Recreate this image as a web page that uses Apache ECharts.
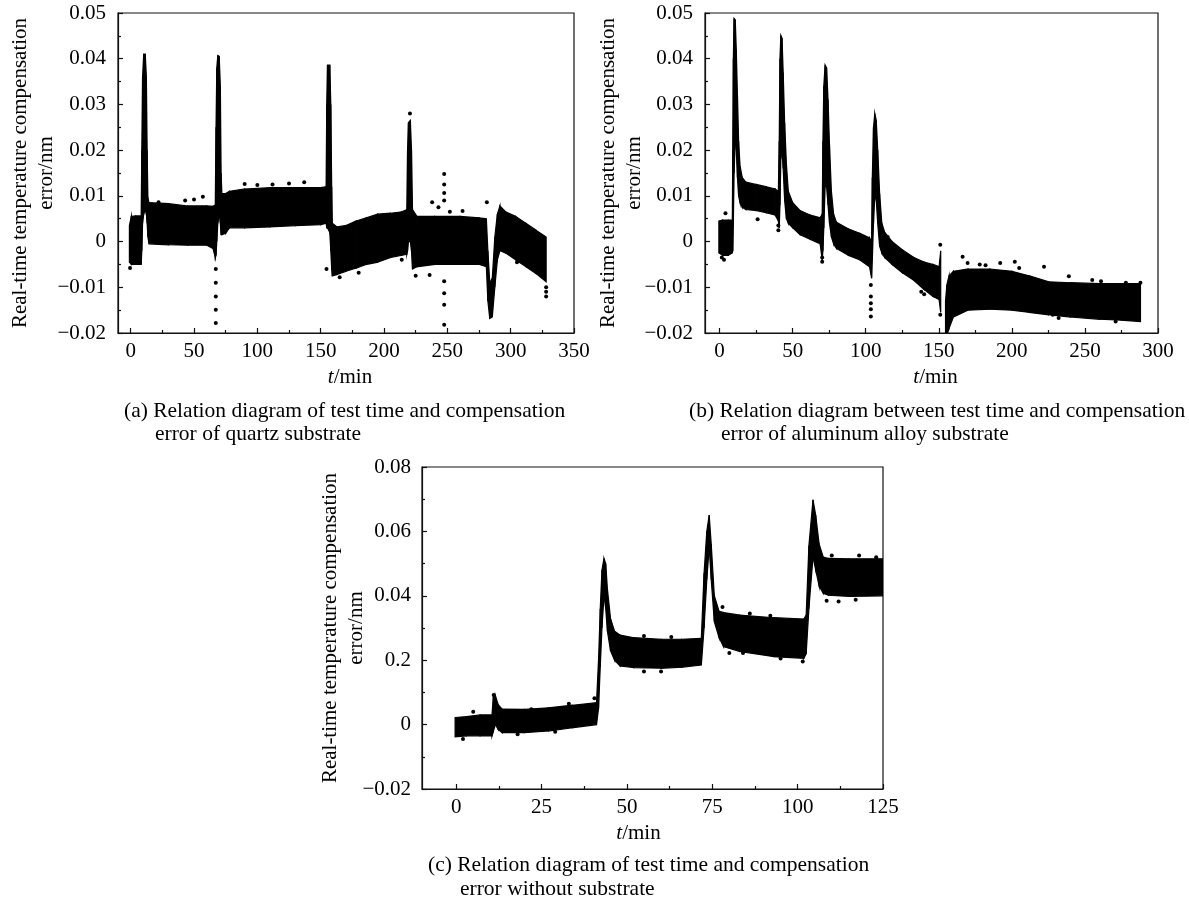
<!DOCTYPE html>
<html><head><meta charset="utf-8">
<script src="https://cdn.jsdelivr.net/npm/echarts@6/dist/echarts.min.js"></script>
<style>html,body{margin:0;padding:0;background:#fff}#c{width:1189px;height:901px}</style>
</head><body><div id="c"></div>
<script>
// ---------- tick values and labels ----------
const xTicksA = [0, 50, 100, 150, 200, 250, 300, 350];
const xMinorA = [25, 75, 125, 175, 225, 275, 325];
const xTicksB = [0, 50, 100, 150, 200, 250, 300];
const xMinorB = [25, 75, 125, 175, 225, 275];
const xTicksC = [0, 25, 50, 75, 100, 125];
const xMinorC = [12.5, 37.5, 62.5, 87.5, 112.5];
const yTicksAB = [-0.02, -0.01, 0, 0.01, 0.02, 0.03, 0.04, 0.05];
const yLabelsAB = ['−0.02', '−0.01', '0', '0.01', '0.02', '0.03', '0.04', '0.05'];
const yTicksC = [-0.02, 0, 0.02, 0.04, 0.06, 0.08];
const yLabelsC = ['−0.02', '0', '0.2', '0.04', '0.06', '0.08'];

const yTitle = 'Real-time temperature compensation\nerror/nm';
const xTitle = '{i|t}/min';
const captionA = ['(a) Relation diagram of test time and compensation', 'error of quartz substrate'];
const captionB = ['(b) Relation diagram between test time and compensation', 'error of aluminum alloy substrate'];
const captionC = ['(c) Relation diagram of test time and compensation', 'error without substrate'];

// ---------- data: envelope of the dense point cloud [t, low, high] ----------
const quartzBand = [
  [-1.0, -0.0045, 0.0035], [0.5, -0.005, 0.0055], [4, -0.005, 0.0056], [8.3, -0.005, 0.0056],
  [8.8, -0.002, 0.020], [9.4, 0.004, 0.036], [10.3, 0.006, 0.041], [11.5, 0.007, 0.041],
  [12.4, 0.006, 0.036], [13.0, 0.004, 0.020], [13.6, 0.001, 0.0095], [14.5, -0.0005, 0.0085],
  [30, -0.0007, 0.0083], [45, -0.0008, 0.0078], [60, -0.0008, 0.0078], [65, -0.0015, 0.0077],
  [66.8, -0.0035, 0.008], [67.4, -0.003, 0.025], [68.0, 0.0, 0.038], [68.8, 0.004, 0.0407],
  [69.9, 0.006, 0.0405], [70.8, 0.004, 0.034], [71.4, 0.0015, 0.015], [72, 0.0015, 0.0105],
  [75, 0.0018, 0.0105], [78, 0.003, 0.011], [90, 0.003, 0.0115], [110, 0.0032, 0.0118],
  [130, 0.0035, 0.0118], [150, 0.0037, 0.0118], [154.3, 0.004, 0.012], [154.8, 0.003, 0.030],
  [155.4, 0.003, 0.0386], [157.2, 0.002, 0.0386], [158, -0.002, 0.030], [158.7, -0.006, 0.012],
  [159.2, -0.0075, 0.004], [163, -0.0072, 0.0032], [170, -0.0065, 0.0035], [178, -0.0058, 0.0045],
  [186, -0.005, 0.0052], [195, -0.0045, 0.006], [205, -0.0035, 0.0062], [214, -0.003, 0.0065],
  [218, -0.0028, 0.007], [218.6, -0.002, 0.020], [219.3, 0.0, 0.026], [220.8, 0.0, 0.0265],
  [221.7, -0.002, 0.020], [222.5, -0.006, 0.007], [226, -0.0055, 0.0055], [240, -0.005, 0.0055],
  [260, -0.005, 0.0055], [275, -0.005, 0.0052], [280.8, -0.0055, 0.005], [282, -0.013, -0.002],
  [283.5, -0.0168, -0.009], [285.5, -0.0165, -0.008], [287.5, -0.010, 0.001], [289.5, -0.004, 0.006],
  [291.5, -0.002, 0.0078], [296, -0.0025, 0.0065], [304, -0.004, 0.0055], [312, -0.0055, 0.004],
  [320, -0.007, 0.0025], [328, -0.0088, 0.001]
];
const quartzDots = [
  [-0.5, -0.0058], [67.2, -0.006], [67.2, -0.009], [67.2, -0.012], [67.2, -0.0149], [67.2, -0.0178],
  [247.5, 0.0148], [247.5, 0.0125], [247.5, 0.0106], [247.5, 0.009], [247.5, -0.0087], [247.5, -0.0113],
  [247.5, -0.0138], [247.5, -0.0182], [22, 0.0086], [43, 0.009], [50, 0.0092], [57, 0.0098],
  [90, 0.0126], [100, 0.0124], [112, 0.0125], [125, 0.0127], [137, 0.013], [154.6, -0.006],
  [220.5, 0.028], [238, 0.0086], [243, 0.0075], [281.2, 0.0086], [328, -0.010], [328, -0.011],
  [328, -0.012], [165, -0.0078], [180, -0.0068], [225, -0.0075], [236, -0.0073], [252, 0.0065],
  [262, 0.0067], [305, -0.0045], [214, -0.004]
];

const alloyBand = [
  [-0.5, -0.0025, 0.0045], [2, -0.003, 0.0047], [6, -0.003, 0.0047], [8.7, -0.0025, 0.0047],
  [9.0, -0.002, 0.020], [9.4, 0.004, 0.040], [9.9, 0.015, 0.0488], [10.7, 0.022, 0.0485],
  [11.4, 0.020, 0.042], [12.2, 0.014, 0.032], [13.0, 0.010, 0.022], [14, 0.0085, 0.0165],
  [15.5, 0.0075, 0.014], [18, 0.007, 0.013], [25, 0.0068, 0.0125], [32, 0.0063, 0.012],
  [38, 0.0058, 0.0115], [40.2, 0.0045, 0.011], [40.8, 0.003, 0.022], [41.3, 0.008, 0.040],
  [41.9, 0.018, 0.0451], [42.7, 0.020, 0.0445], [43.5, 0.016, 0.037], [44.5, 0.009, 0.026],
  [45.7, 0.005, 0.017], [47, 0.004, 0.011], [50, 0.003, 0.0085], [55, 0.0015, 0.0068],
  [62, 0.0005, 0.0058], [68.8, -0.0005, 0.0052], [70.2, -0.004, 0.006], [70.7, -0.002, 0.022],
  [71.3, 0.003, 0.034], [72.2, 0.012, 0.0386], [73.2, 0.012, 0.038], [74.2, 0.008, 0.031],
  [75.2, 0.004, 0.021], [76.5, 0.001, 0.011], [78, -0.0005, 0.006], [80, -0.0015, 0.0042],
  [88, -0.003, 0.0028], [96, -0.004, 0.0018], [102.6, -0.0055, 0.0008], [104, -0.008, 0.0],
  [104.5, -0.004, 0.014], [105.3, 0.004, 0.025], [106.2, 0.010, 0.028], [107.2, 0.009, 0.0265],
  [108.2, 0.004, 0.020], [109.5, -0.001, 0.0105], [111, -0.0025, 0.004], [113, -0.0035, 0.002],
  [118, -0.005, 0.0], [125, -0.0068, -0.0018], [133, -0.0085, -0.0035], [140, -0.0105, -0.0045],
  [146, -0.012, -0.005], [150.2, -0.0127, -0.0055], [151.3, -0.0155, -0.002],
  null,
  [154.6, -0.0205, -0.013], [155.5, -0.0205, -0.0095], [157, -0.019, -0.0075], [160, -0.0165, -0.0065],
  [170, -0.015, -0.006], [185, -0.0148, -0.006], [200, -0.015, -0.0065], [212, -0.0155, -0.0075],
  [225, -0.016, -0.0088], [240, -0.0165, -0.009], [260, -0.017, -0.0092], [275, -0.0172, -0.0092],
  [288, -0.0175, -0.0092]
];
const alloyDots = [
  [3, -0.004], [1.5, -0.0035], [4, 0.0062], [26, 0.0049], [40.2, 0.0025], [40.2, 0.0035],
  [70.2, -0.0044], [70.2, -0.0035], [103.5, -0.0095], [103.5, -0.012], [103.5, -0.0135],
  [103.5, -0.0148], [103.5, -0.0164], [115, 0.001], [151, -0.0007], [151, -0.016],
  [166.3, -0.0033], [169.7, -0.0047], [178, -0.005], [182, -0.0052], [192, -0.0047],
  [202, -0.0044], [205, -0.0058], [222, -0.0055], [239, -0.0076], [255, -0.0084],
  [261, -0.0087], [271, -0.0095], [278, -0.009], [288, -0.009], [228, -0.016],
  [232, -0.0167], [271, -0.0175], [138, -0.011], [140, -0.0115]
];

const bareBand = [
  [-0.3, -0.0038, 0.0022], [3, -0.0035, 0.0025], [7, -0.0035, 0.003], [10.5, -0.0035, 0.003],
  [10.9, -0.002, 0.0088], [11.5, 0.0, 0.009], [12.3, -0.0015, 0.0062], [13.5, -0.0025, 0.0048],
  [20, -0.0025, 0.0047], [27, -0.002, 0.0052], [34, -0.001, 0.006], [41.1, 0.0, 0.0068],
  [41.7, 0.005, 0.020], [42.2, 0.018, 0.036], [42.7, 0.030, 0.048], [43.3, 0.040, 0.0516],
  [43.8, 0.036, 0.050], [44.3, 0.029, 0.042], [45.2, 0.023, 0.033], [46.4, 0.020, 0.029],
  [48, 0.0182, 0.0278], [52, 0.0177, 0.027], [60, 0.0175, 0.0265], [66, 0.0178, 0.0265],
  [71.8, 0.0185, 0.0268], [72.6, 0.030, 0.047], [73.4, 0.045, 0.060], [74.1, 0.055, 0.0651],
  [74.7, 0.045, 0.056], [75.6, 0.032, 0.040], [77, 0.027, 0.0352], [78.3, 0.0242, 0.0348],
  [83, 0.0227, 0.034], [93, 0.0211, 0.0332], [101.8, 0.0206, 0.0328], [102.5, 0.022, 0.034],
  [103.3, 0.036, 0.0555], [104.5, 0.052, 0.0698], [105.3, 0.048, 0.065], [106.3, 0.043, 0.056],
  [107.5, 0.0408, 0.052], [109, 0.0402, 0.0516], [115, 0.0398, 0.0515], [125, 0.040, 0.0515]
];
const bareDots = [
  [2, -0.0045], [5, 0.004], [11, 0.0092], [18, -0.003], [22, 0.0048], [29, -0.0022],
  [33, 0.0065], [40.5, 0.0082], [55, 0.0275], [63, 0.0272], [78, 0.0365], [86, 0.0345],
  [92, 0.0338], [80, 0.0222], [84, 0.0222], [95, 0.0205], [101.5, 0.0196], [108.5, 0.0385],
  [110, 0.0525], [118, 0.0525], [123, 0.052], [112, 0.0382], [117, 0.0388], [55, 0.0165], [60, 0.0165]
];

// ---------- build ----------
const FONT = '"Liberation Serif", "Times New Roman", serif';
const AX = '#111';
const chart = echarts.init(document.getElementById('c'), null, { renderer: 'canvas' });

function segs(band) {
  const out = [];
  for (let i = 0; i < band.length - 1; i++) {
    if (band[i] && band[i + 1]) out.push(band[i].concat(band[i + 1]));
  }
  return out;
}
function renderBand(params, api) {
  const p1 = api.coord([api.value(0), api.value(2)]);
  const p2 = api.coord([api.value(3), api.value(5)]);
  const p3 = api.coord([api.value(3), api.value(4)]);
  const p4 = api.coord([api.value(0), api.value(1)]);
  return { type: 'polygon', shape: { points: [p1, p2, p3, p4] },
    style: { fill: '#000', stroke: '#000', lineWidth: 1.2 } };
}
function lookup(ticks, labels) {
  return function (v) {
    const i = ticks.findIndex(t => Math.abs(t - v) < 1e-9);
    return i >= 0 ? labels[i] : '';
  };
}
const grids = [
  { left: 118, top: 13, width: 456, height: 320 },
  { left: 705, top: 13, width: 453, height: 320 },
  { left: 422, top: 467, width: 461, height: 322 }
].map(g => Object.assign(g, { show: true, borderColor: AX, borderWidth: 1.2, containLabel: false }));

function xAxes(gi, min, max, ticks, minor, nameGap, namePad) {
  return [{
    type: 'value', gridIndex: gi, min: min, max: max, position: 'bottom',
    axisLine: { show: true, onZero: false, lineStyle: { color: AX, width: 1.2 } },
    axisTick: { show: true, inside: true, length: 5, customValues: ticks, lineStyle: { color: AX, width: 1.2 } },
    axisLabel: { customValues: ticks, margin: 8, color: '#000', fontFamily: FONT, fontSize: 21 },
    splitLine: { show: false },
    name: xTitle, nameLocation: 'middle', nameGap: nameGap, nameMoveOverlap: false,
    nameTextStyle: { color: '#000', fontFamily: FONT, fontSize: 21, padding: namePad,
      rich: { i: { fontStyle: 'italic', fontFamily: FONT, fontSize: 21, color: '#000' } } }
  }, {
    type: 'value', gridIndex: gi, min: min, max: max, position: 'bottom',
    axisLine: { show: false, onZero: false },
    axisTick: { show: true, inside: true, length: 3, customValues: minor, lineStyle: { color: AX, width: 1.2 } },
    axisLabel: { show: false }, splitLine: { show: false }
  }];
}
function yAxis(gi, min, max, interval, ticks, labels, nameGap, margin) {
  return {
    type: 'value', gridIndex: gi, min: min, max: max, interval: interval,
    axisLine: { show: true, onZero: false, lineStyle: { color: AX, width: 1.2 } },
    axisTick: { show: true, inside: true, length: 5, lineStyle: { color: AX, width: 1.2 } },
    minorTick: { show: true, splitNumber: 2, length: 3, lineStyle: { color: AX, width: 1.2 } },
    axisLabel: { formatter: lookup(ticks, labels), margin: margin, color: '#000', fontFamily: FONT, fontSize: 21 },
    splitLine: { show: false }, minorSplitLine: { show: false },
    name: yTitle, nameLocation: 'middle', nameRotate: 90, nameGap: nameGap, nameMoveOverlap: false,
    nameTextStyle: { color: '#000', fontFamily: FONT, fontSize: 21, lineHeight: 26, align: 'center' }
  };
}
const xAxisList = [].concat(
  xAxes(0, -10, 350, xTicksA, xMinorA, 34, [0, 0, 0, 8]),
  xAxes(1, -10, 300, xTicksB, xMinorB, 34, [0, 0, 0, 8]),
  xAxes(2, -10, 125, xTicksC, xMinorC, 34, [0, 28, 0, 0])
);
const yAxisList = [
  yAxis(0, -0.02, 0.05, 0.01, yTicksAB, yLabelsAB, 59, 12),
  yAxis(1, -0.02, 0.05, 0.01, yTicksAB, yLabelsAB, 58, 12),
  yAxis(2, -0.02, 0.08, 0.02, yTicksC, yLabelsC, 53, 11)
];
function bandSeries(xi, yi, band) {
  return { type: 'custom', xAxisIndex: xi, yAxisIndex: yi, renderItem: renderBand, data: segs(band),
    encode: { x: [0, 3], y: [1, 2, 4, 5] }, clip: true, silent: true };
}
function dotSeries(xi, yi, dots) {
  return { type: 'scatter', xAxisIndex: xi, yAxisIndex: yi, data: dots, symbol: 'circle', symbolSize: 4,
    itemStyle: { color: '#000', opacity: 1 }, clip: true, silent: true };
}
function caption(lines, x1, x2, y1, y2) {
  const st = { fontFamily: FONT, fontSize: 21.5, fill: '#000', verticalAlign: 'middle', align: 'left' };
  return [
    { type: 'text', x: x1, y: y1, style: Object.assign({ text: lines[0] }, st) },
    { type: 'text', x: x2, y: y2, style: Object.assign({ text: lines[1] }, st) }
  ];
}
chart.setOption({
  animation: false,
  backgroundColor: '#fff',
  grid: grids,
  xAxis: xAxisList,
  yAxis: yAxisList,
  series: [
    bandSeries(0, 0, quartzBand), dotSeries(0, 0, quartzDots),
    bandSeries(2, 1, alloyBand), dotSeries(2, 1, alloyDots),
    bandSeries(4, 2, bareBand), dotSeries(4, 2, bareDots)
  ],
  graphic: [].concat(
    caption(captionA, 124, 155, 411, 434),
    caption(captionB, 689, 721, 411, 434),
    caption(captionC, 428, 460, 865, 889)
  )
});
</script></body></html>
